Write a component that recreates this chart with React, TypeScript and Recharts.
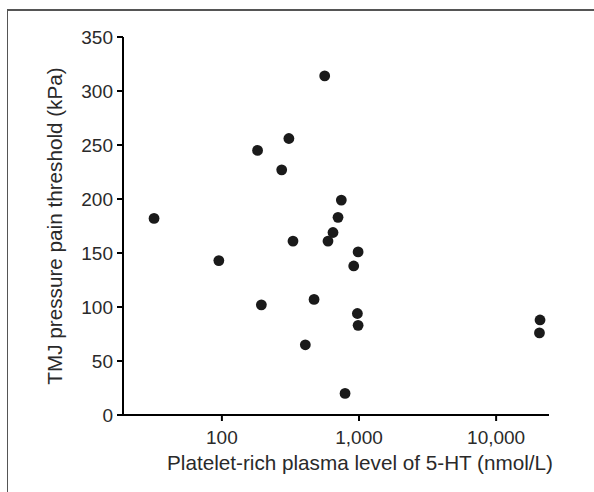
import { ScatterChart, Scatter, XAxis, YAxis } from 'recharts';

// platelet-rich plasma 5-HT (nmol/L) vs TMJ pressure pain threshold (kPa)
const serotonin = [32, 95, 182, 194, 273, 308, 330, 406, 470, 562, 594, 646, 703, 743, 791, 915, 985, 973, 985, 20900, 20700];
const threshold = [182, 143, 245, 102, 227, 256, 161, 65, 107, 314, 161, 169, 183, 199, 20, 138, 151, 94, 83, 88, 76];

const xTicks = [100, 1000, 10000];
const yTicks = [0, 50, 100, 150, 200, 250, 300, 350];

const points = serotonin.map((x, i) => ({ x, y: threshold[i] }));

const font = 'Liberation Sans, Arial, Helvetica, sans-serif';
const textColor = '#2a2a2a';

const Dot = (props: any) => {
  const { cx, cy } = props;
  return <circle cx={cx} cy={cy} r={5.4} fill="#1a1a1a" />;
};

export default function App() {
  return (
    <div style={{ position: 'absolute', left: 0, top: 0, width: 594, height: 492, background: '#fff', overflow: 'hidden' }}>
      <div
        style={{
          position: 'absolute',
          left: 7,
          top: 9,
          width: 600,
          height: 500,
          borderTop: '2px solid #555',
          borderLeft: '1.5px solid #555',
        }}
      />
      <ScatterChart
        width={594}
        height={492}
        margin={{ top: 37, right: 45, bottom: 0, left: 0 }}
        style={{ position: 'absolute', left: 0, top: 0, fontFamily: font }}
      >
        <XAxis
          type="number"
          dataKey="x"
          scale="log"
          domain={[19, 24300]}
          allowDataOverflow
          ticks={xTicks}
          tickFormatter={(v: number) => v.toLocaleString('en-US')}
          height={77}
          stroke="#000"
          strokeWidth={2}
          tickSize={6}
          tickMargin={10}
          tick={{ fill: textColor, fontSize: 19 }}
          label={{
            value: 'Platelet-rich plasma level of 5-HT (nmol/L)',
            position: 'insideBottom',
            offset: 22,
            dx: 24,
            style: { fill: textColor, fontSize: 20.7 },
          }}
        />
        <YAxis
          type="number"
          dataKey="y"
          domain={[0, 350]}
          ticks={yTicks}
          width={123}
          stroke="#000"
          strokeWidth={2}
          tickSize={6}
          tickMargin={4}
          tick={{ fill: textColor, fontSize: 19 }}
          label={{
            value: 'TMJ pressure pain threshold (kPa)',
            angle: -90,
            position: 'insideLeft',
            offset: 55,
            style: { textAnchor: 'middle', fill: textColor, fontSize: 20.7 },
          }}
        />
        <Scatter data={points} shape={Dot} isAnimationActive={false} />
      </ScatterChart>
    </div>
  );
}
